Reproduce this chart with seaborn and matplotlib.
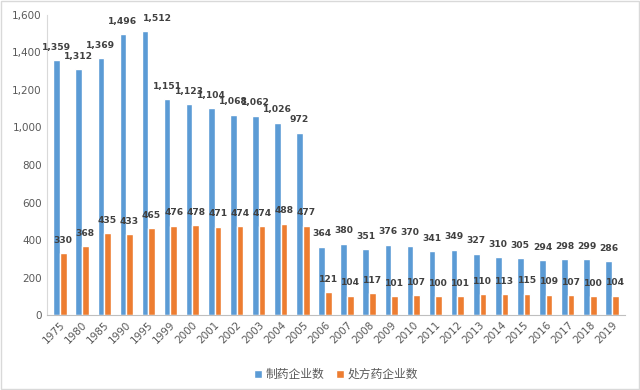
import matplotlib
matplotlib.use("Agg")
import matplotlib.pyplot as plt
import matplotlib.ticker as mticker
import pandas as pd
import seaborn as sns

years = ["1975", "1980", "1985", "1990", "1995", "1999", "2000", "2001", "2002",
         "2003", "2004", "2005", "2006", "2007", "2008", "2009", "2010", "2011",
         "2012", "2013", "2014", "2015", "2016", "2017", "2018", "2019"]
pharma = [1359, 1312, 1369, 1496, 1512, 1151, 1123, 1104, 1068, 1062, 1026, 972,
          364, 380, 351, 376, 370, 341, 349, 327, 310, 305, 294, 298, 299, 286]
rx = [330, 368, 435, 433, 465, 476, 478, 471, 474, 474, 488, 477,
      121, 104, 117, 101, 107, 100, 101, 110, 113, 115, 109, 107, 100, 104]
series_names = ["制药企业数", "处方药企业数"]
colors = ["#5B9BD5", "#ED7D31"]

sns.set_style("white")
plt.rcParams['font.family'] = ['Noto Sans CJK SC', 'DejaVu Sans']

df = pd.DataFrame({
    "year": years * 2,
    "value": pharma + rx,
    "series": [series_names[0]] * len(years) + [series_names[1]] * len(years),
})

fig = plt.figure(figsize=(6.4, 3.9), dpi=100)
ax = fig.add_axes([0.073, 0.192, 0.904, 0.77])
sns.barplot(data=df, x="year", y="value", hue="series", palette=colors,
            width=0.6, gap=0.0, ax=ax, legend=True, saturation=1)

for i, cont in enumerate(ax.containers):
    anns = ax.bar_label(cont, labels=[f"{v:,.0f}" for v in cont.datavalues],
                        padding=6, fontsize=6.6, fontweight="bold", color="#404040",
                        family="DejaVu Sans")
    if i == 0:
        # the 1995 label sits a little to the right in the original
        anns[4].xyann = (9, 6)

ax.set_ylim(0, 1600)
ax.yaxis.set_major_locator(mticker.MultipleLocator(200))
ax.yaxis.set_major_formatter(mticker.FuncFormatter(lambda v, p: f"{v:,.0f}"))
ax.set_xlim(-0.6, len(years) - 0.4)
ax.set_xlabel("")
ax.set_ylabel("")
ax.tick_params(axis="both", labelsize=7.5, colors="#595959", length=0)
plt.setp(ax.get_xticklabels(), rotation=45, ha="right", rotation_mode="anchor")
for lab in ax.get_xticklabels() + ax.get_yticklabels():
    lab.set_family("DejaVu Sans")

for s in ["top", "right"]:
    ax.spines[s].set_visible(False)
ax.spines["left"].set_color("#D9D9D9")
ax.spines["bottom"].set_color("#BFBFBF")

handles, labels = ax.get_legend_handles_labels()
ax.legend(handles, labels, loc="upper center", bbox_to_anchor=(0.5, -0.14),
          ncol=2, frameon=False, fontsize=8.5, handlelength=0.7, handleheight=0.7,
          columnspacing=1.0, handletextpad=0.3, labelcolor="#595959")

fig.patches.append(plt.Rectangle((0.002, 0.003), 0.996, 0.994, transform=fig.transFigure,
                                 fill=False, edgecolor="#D9D9D9", linewidth=1))
fig.savefig("out.png", dpi=100)
